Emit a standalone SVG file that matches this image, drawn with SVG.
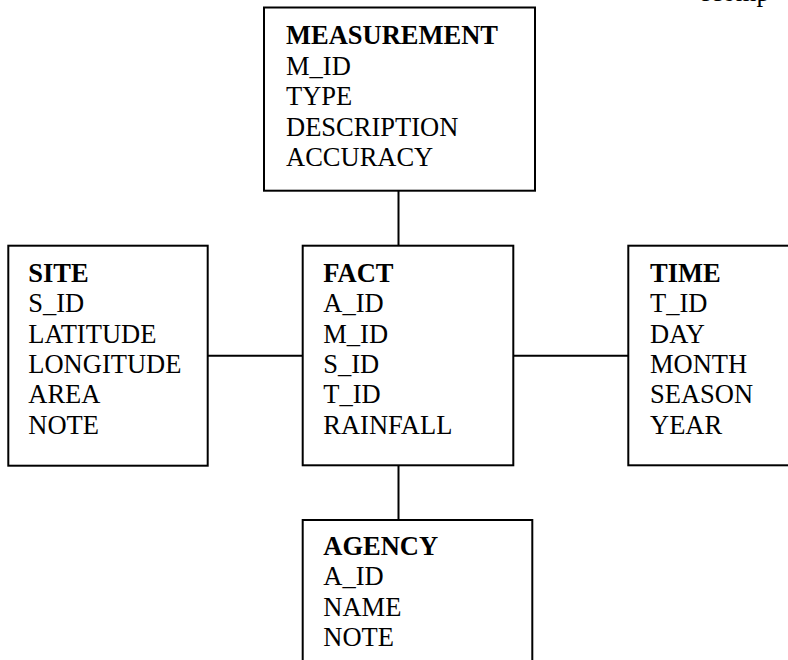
<svg xmlns="http://www.w3.org/2000/svg" width="788" height="660" viewBox="0 0 788 660">
<style>
.box{fill:#fff;stroke:#000;stroke-width:2}
.ln{stroke:#000;stroke-width:2;fill:none}
text{font-family:"Liberation Serif","Times New Roman",serif;font-size:26.5px;fill:#000}
.t{font-weight:bold}
</style>
<rect width="788" height="660" fill="#fff"/>
<text x="699" y="0.5">ecomp</text>
<g id="connectors">
<line class="ln" x1="398.5" y1="190.7" x2="398.5" y2="245.7"/>
<line class="ln" x1="398.5" y1="465.3" x2="398.5" y2="520"/>
<line class="ln" x1="207.7" y1="355.7" x2="302.7" y2="355.7"/>
<line class="ln" x1="513.3" y1="355.7" x2="628.3" y2="355.7"/>
</g>
<g id="measurement">
<rect class="box" x="264" y="7.5" width="271" height="183.2"/>
<text x="286" y="44.3"><tspan class="t">MEASUREMENT</tspan><tspan x="286" dy="30.4">M_ID</tspan><tspan x="286" dy="30.4">TYPE</tspan><tspan x="286" dy="30.4">DESCRIPTION</tspan><tspan x="286" dy="30.4">ACCURACY</tspan></text>
</g>
<g id="site">
<rect class="box" x="8.3" y="245.7" width="199.4" height="220"/>
<text x="28.3" y="281.7"><tspan class="t">SITE</tspan><tspan x="28.3" dy="30.4">S_ID</tspan><tspan x="28.3" dy="30.4">LATITUDE</tspan><tspan x="28.3" dy="30.4">LONGITUDE</tspan><tspan x="28.3" dy="30.4">AREA</tspan><tspan x="28.3" dy="30.4">NOTE</tspan></text>
</g>
<g id="fact">
<rect class="box" x="302.7" y="245.7" width="210.6" height="219.6"/>
<text x="323.3" y="281.7"><tspan class="t">FACT</tspan><tspan x="323.3" dy="30.4">A_ID</tspan><tspan x="323.3" dy="30.4">M_ID</tspan><tspan x="323.3" dy="30.4">S_ID</tspan><tspan x="323.3" dy="30.4">T_ID</tspan><tspan x="323.3" dy="30.4">RAINFALL</tspan></text>
</g>
<g id="time">
<rect class="box" x="628.3" y="245.7" width="170" height="219.6"/>
<text x="650" y="281.7"><tspan class="t">TIME</tspan><tspan x="650" dy="30.4">T_ID</tspan><tspan x="650" dy="30.4">DAY</tspan><tspan x="650" dy="30.4">MONTH</tspan><tspan x="650" dy="30.4">SEASON</tspan><tspan x="650" dy="30.4">YEAR</tspan></text>
</g>
<g id="agency">
<rect class="box" x="302.7" y="520" width="229.6" height="180"/>
<text x="323.3" y="555"><tspan class="t">AGENCY</tspan><tspan x="323.3" dy="30.4">A_ID</tspan><tspan x="323.3" dy="30.4">NAME</tspan><tspan x="323.3" dy="30.4">NOTE</tspan></text>
</g>
</svg>
